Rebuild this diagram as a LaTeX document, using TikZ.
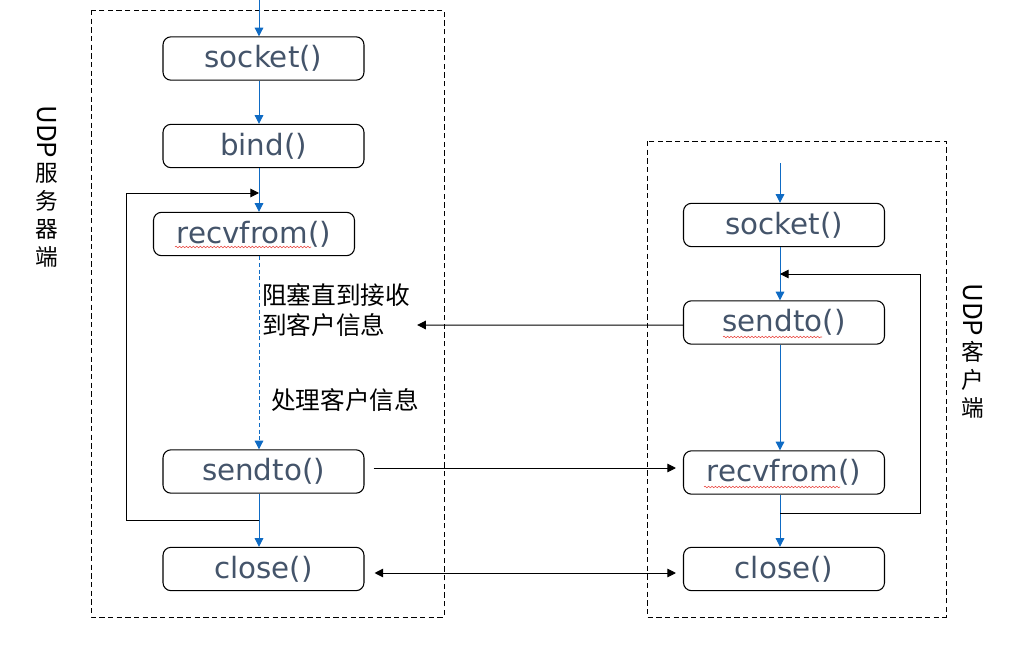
\documentclass[tikz,border=0pt]{standalone}
\usepackage{fontspec}
\usepackage{graphicx}
\usepackage{tikz}
\usetikzlibrary{arrows.meta,positioning,calc,decorations.pathmorphing}
\newfontfamily\funcfont{DejaVu Sans}
\newfontfamily\cjkfont{Noto Sans CJK SC}
\definecolor{udptext}{HTML}{44546A}
\definecolor{udpblue}{HTML}{0F6BC4}
\definecolor{udpred}{HTML}{E8413A}
\newcommand{\vudp}{\rotatebox{-90}{\fontsize{19.5}{20}\selectfont UDP}}
\tikzset{
  func/.style={rounded corners=6pt, draw=black, line width=0.8pt,
    minimum width=150.75pt, minimum height=32.5pt, inner sep=0pt,
    text=udptext, font=\funcfont\fontsize{22}{24}\selectfont},
  blueflow/.style={-{Triangle[length=6.5pt, width=6.5pt]}, line width=0.75pt, draw=udpblue},
  blackflow/.style={-{Triangle[length=6.5pt, width=6.5pt]}, line width=0.75pt, draw=black},
  bothflow/.style={{Triangle[length=6.5pt, width=6.5pt]}-{Triangle[length=6.5pt, width=6.5pt]}, line width=0.75pt, draw=black},
  region/.style={dashed, line width=0.7pt, dash pattern=on 4pt off 2.5pt},
  note/.style={font=\cjkfont\fontsize{18.5}{22}\selectfont, align=left, anchor=west, inner sep=0pt},
  side/.style={font=\cjkfont\fontsize{17}{21}\selectfont, align=center, inner sep=0pt, anchor=north},
  squiggle/.style={draw=udpred, line width=0.4pt, decorate,
    decoration={snake, amplitude=0.6pt, segment length=2.6pt}},
}

\begin{document}
\begin{tikzpicture}[x=0.75pt, y=-0.75pt]
\useasboundingbox (0,0) rectangle (1035,653);

% ---------- regions ----------
\draw[region] (91,10) rectangle (444,617);
\draw[region] (647,141) rectangle (946,617);
\node[side] (slabel) at (47,105) {\vudp\\[3pt]服\\务\\器\\端};
\node[side] (clabel) at (973,283) {\vudp\\[3pt]客\\户\\端};

% ---------- server side ----------
\coordinate (scol) at (259,0);
\node[func] (ssocket) at (263.5,58.5) {socket()};
\node[func] (sbind) at (263.5,146) {bind()};
\node[func] (srecv) at (254,234) {recvfrom()};
\node[func] (ssend) at (263.5,471.5) {sendto()};
\node[func] (sclose) at (263.5,569) {close()};
\node[note] (swait) at (262,310) {阻塞直到接收\\到客户信息};
\node[note] (swork) at (271,400) {处理客户信息};

\draw[blueflow] (scol) -- (scol |- ssocket.north);
\draw[blueflow] (scol |- ssocket.south) -- (scol |- sbind.north);
\draw[blueflow] (scol |- sbind.south) -- (scol |- srecv.north);
\draw[blueflow, dashed, dash pattern=on 3pt off 2pt] (scol |- srecv.south) -- (scol |- ssend.north);
\draw[blueflow] (scol |- ssend.south) -- (scol |- sclose.north);
% loop back to recvfrom
\coordinate (sjoin) at (259,520);
\coordinate (sback) at (259,193);
\draw[blackflow] (sjoin) -- ++(-133,0) |- (sback);

% ---------- client side ----------
\coordinate (ccol) at (780,163);
\node[func] (csocket) at (784,225) {socket()};
\node[func] (csend) at (784,322.5) {sendto()};
\node[func] (crecv) at (784,472.5) {recvfrom()};
\node[func] (cclose) at (784,569) {close()};

\draw[blueflow] (ccol) -- (ccol |- csocket.north);
\draw[blueflow] (ccol |- csocket.south) -- (ccol |- csend.north);
\draw[blueflow] (ccol |- csend.south) -- (ccol |- crecv.north);
\draw[blueflow] (ccol |- crecv.south) -- (ccol |- cclose.north);
% loop back to sendto
\coordinate (cjoin) at (780,513);
\coordinate (cback) at (780,274);
\draw[blackflow] (cjoin) -- ++(140,0) |- (cback);

% ---------- messages ----------
\draw[blackflow] ([yshift=-2pt]csend.west) -- ([xshift=5pt]swait.east |- 0,325);
\draw[blackflow] ([shift={(9,-3.5)}]ssend.east) -- ([shift={(-7,-4.5)}]crecv.west);
\draw[bothflow] ([shift={(10,4)}]sclose.east) -- ([shift={(-7,4)}]cclose.west);

% spell-check marks
\draw[squiggle] ([shift={(-79,13)}]srecv.center) -- ([shift={(57,13)}]srecv.center);
\draw[squiggle] ([shift={(-61,14.5)}]csend.center) -- ([shift={(38,14.5)}]csend.center);
\draw[squiggle] ([shift={(-80,14.5)}]crecv.center) -- ([shift={(56,14.5)}]crecv.center);
\end{tikzpicture}
\end{document}
